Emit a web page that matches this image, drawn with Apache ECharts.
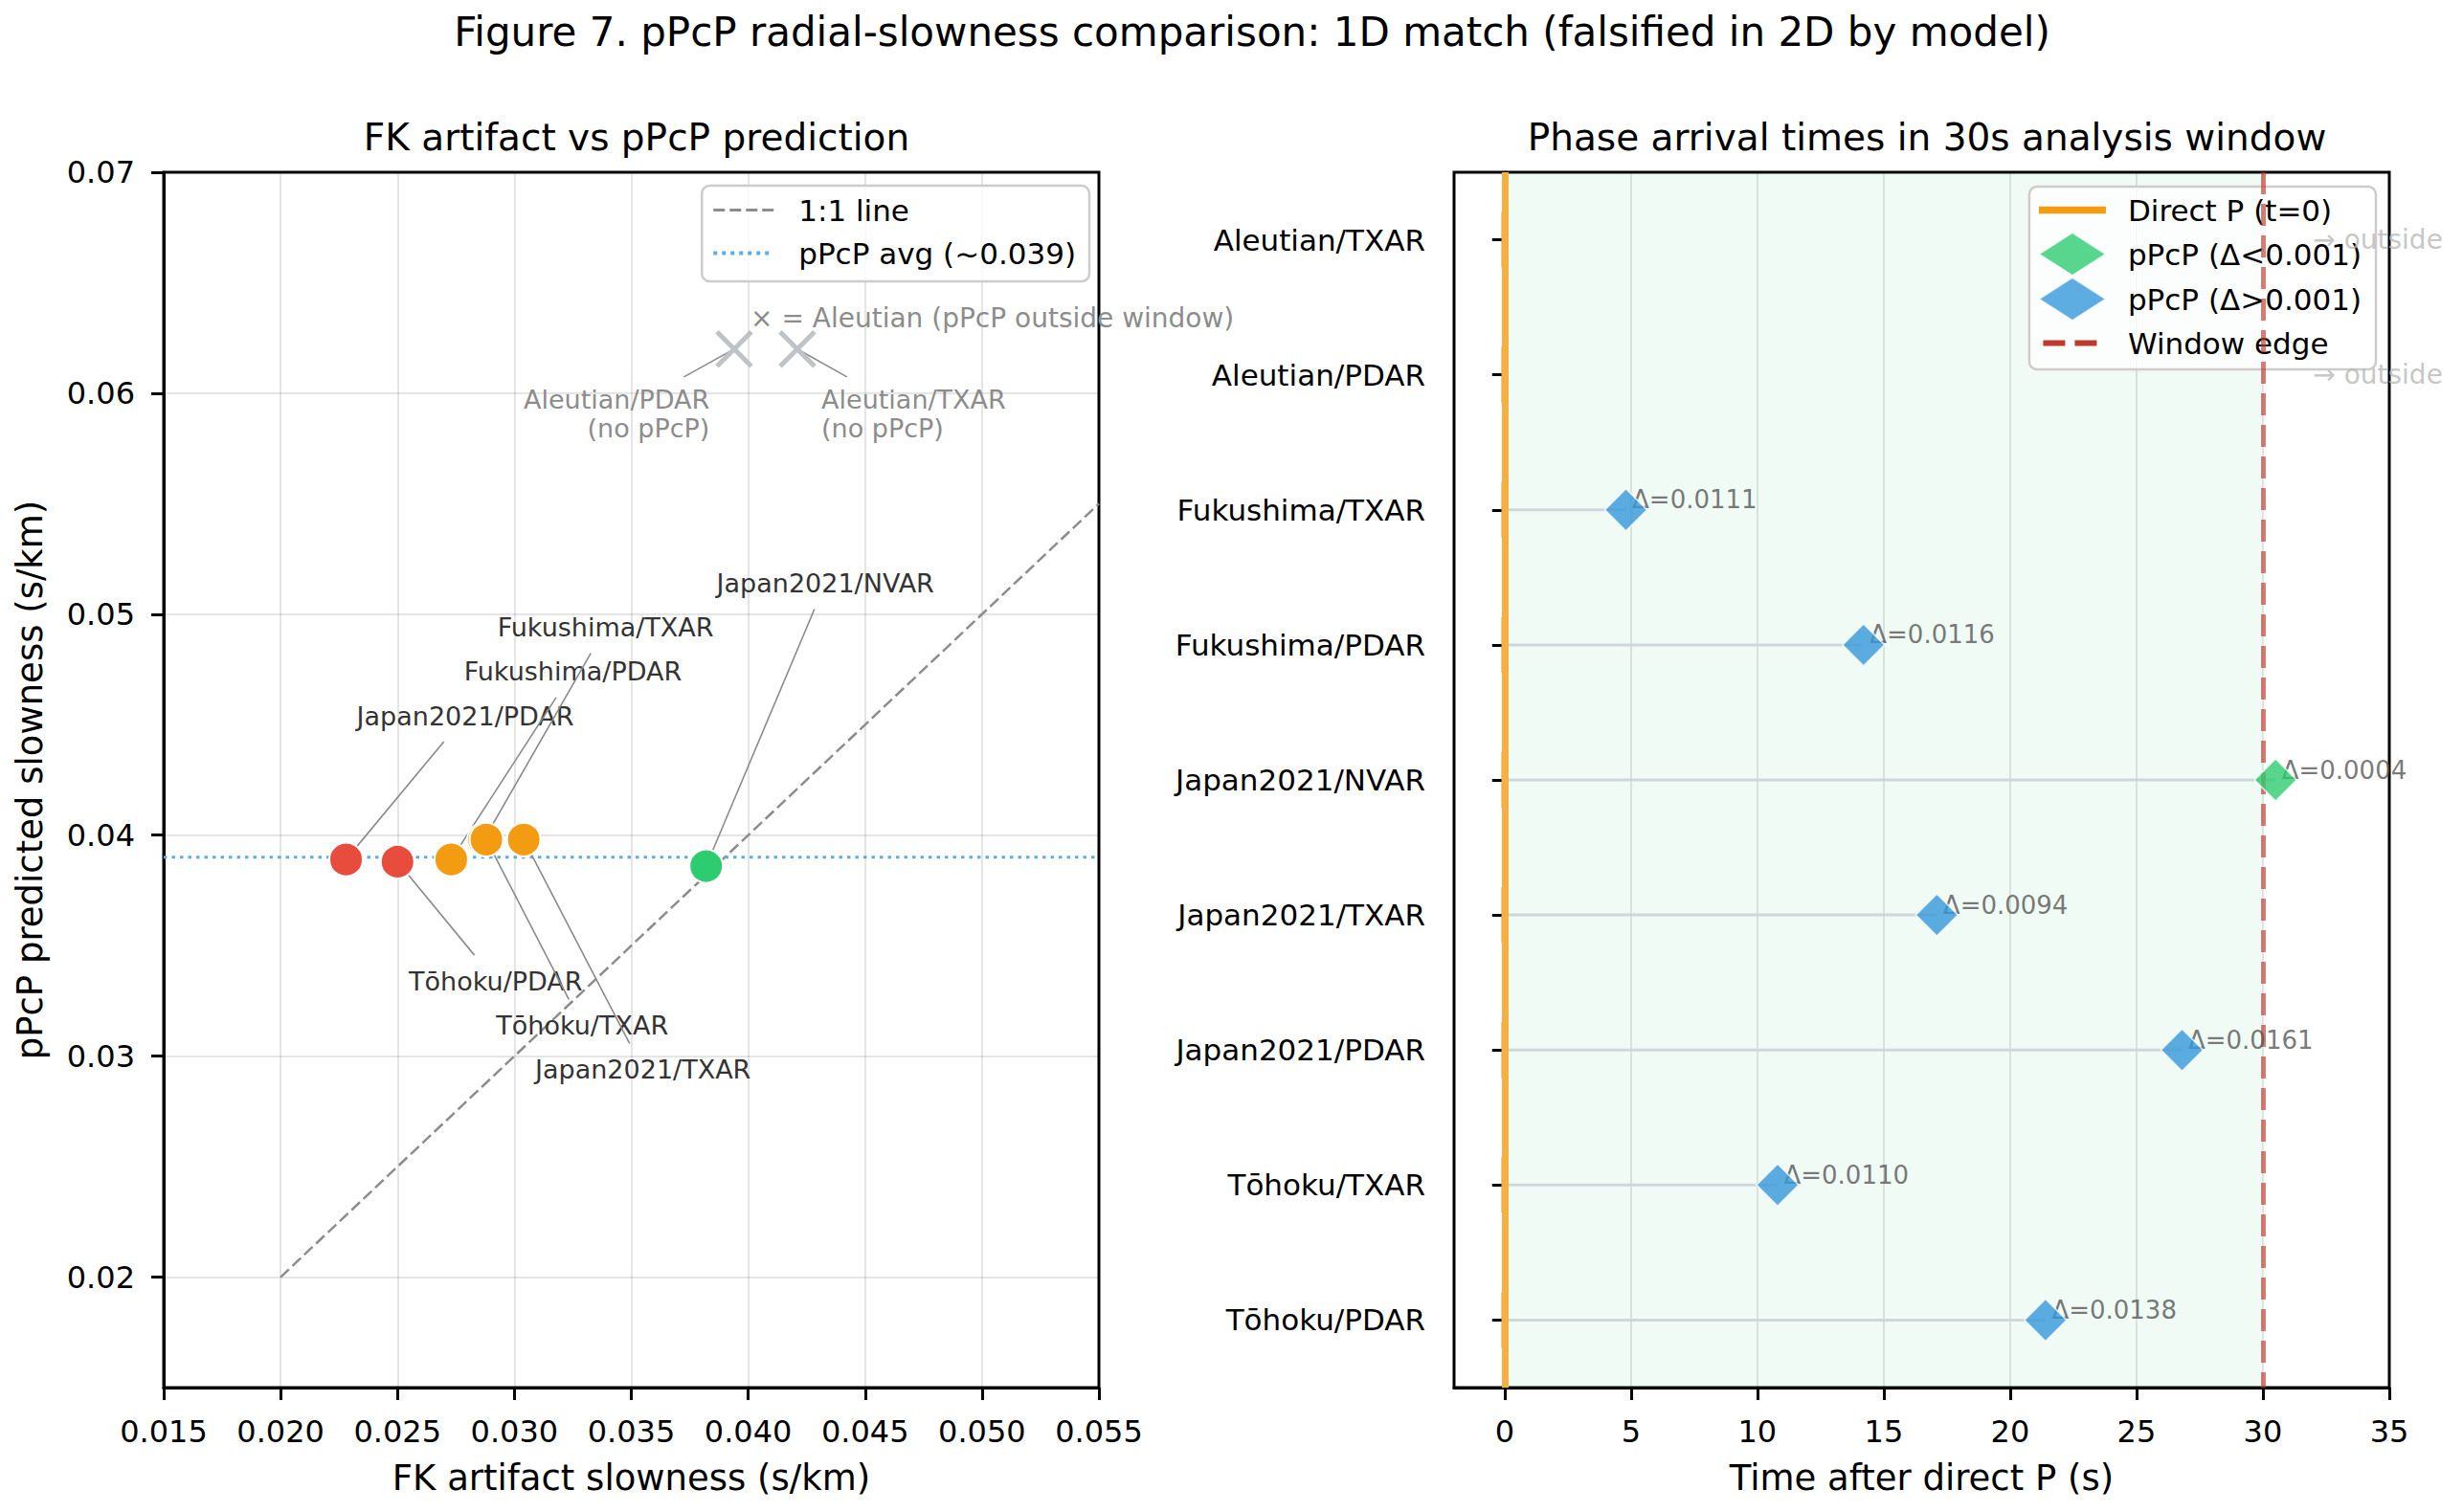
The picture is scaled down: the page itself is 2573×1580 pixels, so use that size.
<!DOCTYPE html>
<html><head><meta charset="utf-8">
<script src="https://cdn.jsdelivr.net/npm/echarts@6/dist/echarts.min.js"></script>
<style>html,body{margin:0;padding:0;background:#fff}#c{width:2573px;height:1580px}</style>
</head><body><div id="c"></div>
<script>
// ---------------- Left panel data ----------------
const pairLabels   = ['Japan2021/PDAR','Tōhoku/PDAR','Fukushima/PDAR','Fukushima/TXAR','Tōhoku/TXAR','Japan2021/TXAR','Japan2021/NVAR'];
const fkSlowness   = [0.0228, 0.0250, 0.0273, 0.0287, 0.0288, 0.0304, 0.0382];
const pcpSlowness  = [0.0389, 0.0388, 0.0389, 0.0398, 0.0398, 0.0398, 0.0386];
const pointColors  = ['#e74c3c','#e74c3c','#f39c12','#f39c12','#f39c12','#f39c12','#2ecc71'];
const labelX       = [0.0279, 0.0292, 0.0325, 0.0339, 0.0329, 0.0355, 0.0433];
const labelY       = [0.0454, 0.0334, 0.0474, 0.0494, 0.0314, 0.0294, 0.0514];
const aleutianLabels = ['Aleutian/PDAR\n(no pPcP)','Aleutian/TXAR\n(no pPcP)'];
const aleutianAlign  = ['right','left'];
const aleutianFk     = [0.0394, 0.0421];
const aleutianPcp    = [0.0620, 0.0620];
const aleutianLabelX = [0.03835, 0.04313];
const aleutianLabelY = [0.05905, 0.05905];
const aleutianNote   = '× = Aleutian (pPcP outside window)';
const aleutianNotePos = [0.0401, 0.0634];
const avgPcp = 0.039;
const oneToOneLine = [[0.020, 0.020], [0.055, 0.055]];
const xTicksLeft = [0.015, 0.020, 0.025, 0.030, 0.035, 0.040, 0.045, 0.050, 0.055];
const yTicksLeft = [0.02, 0.03, 0.04, 0.05, 0.06, 0.07];

// ---------------- Right panel data ----------------
const rowLabels = ['Aleutian/TXAR','Aleutian/PDAR','Fukushima/TXAR','Fukushima/PDAR','Japan2021/NVAR','Japan2021/TXAR','Japan2021/PDAR','Tōhoku/TXAR','Tōhoku/PDAR'];
const pcpTimes      = [null, null, 4.8, 14.2, 30.5, 17.1, 26.8, 10.8, 21.4];
const slownessDelta = [null, null, 0.0111, 0.0116, 0.0004, 0.0094, 0.0161, 0.0110, 0.0138];
const directPTime = 0;
const windowEdge = 30;
const outsideTextX = 32;
const xTicksRight = [0, 5, 10, 15, 20, 25, 30, 35];

// ---------------- helpers ----------------
const FONT = 'DejaVu Sans';
function measure(text, size) {
  const ctx = measure.ctx || (measure.ctx = document.createElement('canvas').getContext('2d'));
  ctx.font = size + 'px "DejaVu Sans"';
  return Math.max.apply(null, text.split('\n').map(t => ctx.measureText(t).width));
}
function annotationRenderer(texts, aligns, textColor, lineColor, fontSize, lineH, extra) {
  return function (params, api) {
    const i = params.dataIndex;
    const a = api.coord([api.value(0), api.value(1)]);
    const p = api.coord([api.value(2), api.value(3)]);
    const txt = texts[i], align = aligns[i];
    const w = measure(txt, fontSize);
    const n = txt.split('\n').length;
    let cx = a[0];
    if (align === 'left') cx = a[0] + w / 2; else if (align === 'right') cx = a[0] - w / 2;
    const hw = w / 2 + 6, hh = n * lineH / 2 + extra;
    const dx = p[0] - cx, dy = p[1] - a[1];
    const t = Math.min(dx ? hw / Math.abs(dx) : Infinity, dy ? hh / Math.abs(dy) : Infinity);
    const s = [cx + t * dx, a[1] + t * dy];
    return { type: 'group', children: [
      { type: 'line', shape: { x1: s[0], y1: s[1], x2: p[0], y2: p[1] }, style: { stroke: lineColor, lineWidth: 1.6 } },
      { type: 'text', x: a[0], y: a[1], style: { text: txt, fill: textColor, fontSize: fontSize, fontFamily: FONT, align: align, verticalAlign: 'middle', lineHeight: lineH } }
    ]};
  };
}

// legend icon shapes (pure styling)
const ICON_DASH_GRAY = 'path://M0,0h12v3h-12z M17,0h12v3h-12z M34,0h12v3h-12z M51,0h12v3h-12z';
const ICON_DOT_BLUE  = 'path://M0,0h4v4h-4z M9,0h4v4h-4z M18,0h4v4h-4z M27,0h4v4h-4z M36,0h4v4h-4z M45,0h4v4h-4z M54,0h4v4h-4z M63,2L63,2z';
const ICON_SOLID     = 'path://M0,0h70v7.5h-70z';
const ICON_DASH_RED  = 'path://M0,3L0,3z M4.5,0h23v6h-23z M37.5,0h23v6h-23z M70,3L70,3z';

const chart = echarts.init(document.getElementById('c'), null, { renderer: 'svg', width: 2573, height: 1580 });

const axisCommon = {
  axisLine: { show: true, lineStyle: { color: '#000', width: 3 } },
  axisTick: { show: true, length: 13, lineStyle: { color: '#000', width: 3 } },
  nameTextStyle: { fontSize: 37, color: '#000', fontFamily: FONT }
};
const legendText = { fontSize: 31, color: '#000', fontFamily: FONT, lineHeight: 45 };
const gridLineStyle = { color: 'rgba(0,0,0,0.1)', width: 2 };

const option = {
  backgroundColor: '#fff',
  animation: false,
  textStyle: { fontFamily: FONT },
  title: [
    { text: 'Figure 7. pPcP radial-slowness comparison: 1D match (falsified in 2D by model)', left: 1303, textAlign: 'center', top: 7,
      textStyle: { fontSize: 42, fontWeight: 'normal', color: '#000', fontFamily: FONT } },
    { text: 'FK artifact vs pPcP prediction', left: 660, textAlign: 'center', top: 119,
      textStyle: { fontSize: 39, fontWeight: 'normal', color: '#000', fontFamily: FONT } },
    { text: 'Phase arrival times in 30s analysis window', left: 2008, textAlign: 'center', top: 119,
      textStyle: { fontSize: 39, fontWeight: 'normal', color: '#000', fontFamily: FONT } }
  ],
  legend: [
    { data: [{ name: '1:1 line', icon: ICON_DASH_GRAY }, { name: 'pPcP avg (~0.039)', icon: ICON_DOT_BLUE }],
      orient: 'vertical', right: 1435, top: 194, symbolKeepAspect: true,
      itemWidth: 63, itemHeight: 45, itemGap: 0, padding: [3, 14, 7, 12],
      backgroundColor: 'rgba(255,255,255,0.8)', borderColor: '#cccccc', borderWidth: 2.5, borderRadius: 8,
      textStyle: Object.assign({ padding: [0, 0, 0, 21] }, legendText) },
    { data: [{ name: 'Direct P (t=0)', icon: ICON_SOLID }, { name: 'pPcP (Δ<0.001)' }, { name: 'pPcP (Δ>0.001)' },
             { name: 'Window edge', icon: ICON_DASH_RED }],
      orient: 'vertical', right: 91, top: 195, symbolKeepAspect: true,
      itemWidth: 70, itemHeight: 45, itemGap: 0, padding: [2, 15, 5, 9],
      backgroundColor: 'rgba(255,255,255,0.8)', borderColor: '#cccccc', borderWidth: 2.5, borderRadius: 8,
      textStyle: Object.assign({ padding: [0, 0, 0, 18] }, legendText) }
  ],
  grid: [
    { left: 171, top: 180, width: 977, height: 1270, show: true, borderColor: '#000', borderWidth: 3, backgroundColor: 'transparent' },
    { left: 1519, top: 180, width: 977, height: 1270, show: true, borderColor: '#000', borderWidth: 3, backgroundColor: 'transparent' }
  ],
  xAxis: [
    Object.assign({}, axisCommon, {
      gridIndex: 0, type: 'value', min: 0.015, max: 0.055,
      axisTick: Object.assign({}, axisCommon.axisTick, { customValues: xTicksLeft }),
      axisLabel: { customValues: xTicksLeft, formatter: v => v.toFixed(3), color: '#000', fontSize: 32, fontFamily: FONT, margin: 30 },
      splitLine: { show: true, showMinLine: false, showMaxLine: false, lineStyle: gridLineStyle },
      name: 'FK artifact slowness (s/km)', nameLocation: 'middle', nameGap: 76
    }),
    Object.assign({}, axisCommon, {
      gridIndex: 1, type: 'value', min: -2, max: 35,
      axisTick: Object.assign({}, axisCommon.axisTick, { customValues: xTicksRight }),
      axisLabel: { customValues: xTicksRight, formatter: v => String(v), color: '#000', fontSize: 32, fontFamily: FONT, margin: 30 },
      splitLine: { show: true, showMaxLine: false, lineStyle: gridLineStyle },
      name: 'Time after direct P (s)', nameLocation: 'middle', nameGap: 76
    })
  ],
  yAxis: [
    Object.assign({}, axisCommon, {
      gridIndex: 0, type: 'value', min: 0.015, max: 0.07,
      axisTick: Object.assign({}, axisCommon.axisTick, { customValues: yTicksLeft }),
      axisLabel: { customValues: yTicksLeft, formatter: v => v.toFixed(2), color: '#000', fontSize: 32, fontFamily: FONT, margin: 30 },
      splitLine: { show: true, showMaxLine: false, lineStyle: gridLineStyle },
      name: 'pPcP predicted slowness (s/km)', nameLocation: 'middle', nameGap: 121, nameRotate: 90
    }),
    Object.assign({}, axisCommon, {
      gridIndex: 1, type: 'category', data: rowLabels, inverse: true,
      axisTick: Object.assign({}, axisCommon.axisTick, { alignWithLabel: true }),
      axisLabel: { color: '#000', fontSize: 31, fontFamily: FONT, margin: 30 },
      splitLine: { show: false }
    })
  ],
  series: [
    // ---------- left panel ----------
    { name: '1:1 line', type: 'line', xAxisIndex: 0, yAxisIndex: 0, data: oneToOneLine, symbol: 'none', silent: true, z: 2,
      color: '#8c8c8c', lineStyle: { color: '#8c8c8c', width: 2.5, type: [12, 5] } },
    { name: 'pPcP avg (~0.039)', type: 'line', xAxisIndex: 0, yAxisIndex: 0,
      data: [[xTicksLeft[0], avgPcp], [xTicksLeft[xTicksLeft.length - 1], avgPcp]],
      symbol: 'none', silent: true, z: 2, color: '#5dade2', lineStyle: { color: '#5dade2', width: 3, type: [3.5, 5] } },
    { name: 'annotations', type: 'custom', xAxisIndex: 0, yAxisIndex: 0, silent: true, z: 3, clip: false,
      data: pairLabels.map((n, i) => [labelX[i], labelY[i], fkSlowness[i], pcpSlowness[i]]),
      renderItem: annotationRenderer(pairLabels, pairLabels.map(() => 'center'), '#333333', '#8a8a8a', 27, 30, 12) },
    { name: 'aleutian annotations', type: 'custom', xAxisIndex: 0, yAxisIndex: 0, silent: true, z: 3, clip: false,
      data: aleutianLabels.map((n, i) => [aleutianLabelX[i], aleutianLabelY[i], aleutianFk[i], aleutianPcp[i]]),
      renderItem: annotationRenderer(aleutianLabels, aleutianAlign, '#8c8c8c', '#8c8c8c', 27, 30, 9) },
    { name: 'aleutian markers', type: 'custom', xAxisIndex: 0, yAxisIndex: 0, silent: true, z: 4,
      data: aleutianFk.map((x, i) => [x, aleutianPcp[i]]),
      renderItem: function (params, api) {
        const p = api.coord([api.value(0), api.value(1)]);
        const r = 18;
        return { type: 'group', children: [
          { type: 'line', shape: { x1: p[0] - r, y1: p[1] - r, x2: p[0] + r, y2: p[1] + r }, style: { stroke: '#bdc3c7', lineWidth: 5 } },
          { type: 'line', shape: { x1: p[0] - r, y1: p[1] + r, x2: p[0] + r, y2: p[1] - r }, style: { stroke: '#bdc3c7', lineWidth: 5 } }
        ]};
      } },
    { name: 'aleutian note', type: 'custom', xAxisIndex: 0, yAxisIndex: 0, silent: true, z: 4, clip: false,
      data: [aleutianNotePos],
      renderItem: function (params, api) {
        const p = api.coord([api.value(0), api.value(1)]);
        return { type: 'text', x: p[0], y: p[1], style: { text: aleutianNote, fill: '#8c8c8c', fontSize: 28, fontFamily: FONT, align: 'left', verticalAlign: 'middle' } };
      } },
    { name: 'pairs', type: 'scatter', xAxisIndex: 0, yAxisIndex: 0, z: 5, symbolSize: 35,
      data: fkSlowness.map((x, i) => [x, pcpSlowness[i]]),
      itemStyle: { color: p => pointColors[p.dataIndex], borderColor: '#fff', borderWidth: 2, opacity: 1 } },

    // ---------- right panel ----------
    { name: 'window area', type: 'line', xAxisIndex: 1, yAxisIndex: 1, data: [], silent: true, z: 1,
      markArea: { silent: true, itemStyle: { color: 'rgba(46,204,113,0.07)' }, data: [[{ xAxis: directPTime }, { xAxis: windowEdge }]] } },
    { name: 'connectors', type: 'bar', xAxisIndex: 1, yAxisIndex: 1, data: pcpTimes, barWidth: 3, silent: true, z: 2,
      itemStyle: { color: '#d0d7da' } },
    { name: 'Direct P (t=0)', type: 'line', xAxisIndex: 1, yAxisIndex: 1, data: [], symbol: 'none', z: 3,
      color: '#f39c12', lineStyle: { color: '#f39c12', width: 7 },
      markLine: { silent: true, symbol: 'none', label: { show: false },
        lineStyle: { color: '#f5b041', width: 7, type: 'solid', opacity: 1 }, data: [{ xAxis: directPTime }] } },
    { name: 'direct P rows', type: 'scatter', xAxisIndex: 1, yAxisIndex: 1, silent: true, z: 4,
      symbol: 'rect', symbolSize: [7, 58], itemStyle: { color: '#f39c12' },
      data: rowLabels.map(r => [directPTime, r]) },
    { name: 'Window edge', type: 'line', xAxisIndex: 1, yAxisIndex: 1, data: [], symbol: 'none', z: 3,
      color: '#c0392b', lineStyle: { color: '#c0392b', width: 5, type: [23, 10] },
      markLine: { silent: true, symbol: 'none', label: { show: false },
        lineStyle: { color: '#c0392b', width: 5, type: [23, 10], opacity: 0.65 }, data: [{ xAxis: windowEdge }] } },
    { name: 'delta labels', type: 'scatter', xAxisIndex: 1, yAxisIndex: 1, silent: true, z: 5,
      symbolSize: 1, itemStyle: { color: 'rgba(0,0,0,0)' },
      data: rowLabels.map((r, i) => [pcpTimes[i], r, slownessDelta[i]]).filter(d => d[0] !== null),
      label: { show: true, position: [7, -10], align: 'left', verticalAlign: 'middle', fontSize: 26, color: '#555555', fontFamily: FONT,
        formatter: p => 'Δ=' + p.value[2].toFixed(4) } },
    { name: 'outside labels', type: 'scatter', xAxisIndex: 1, yAxisIndex: 1, silent: true, z: 5,
      symbolSize: 1, itemStyle: { color: 'rgba(0,0,0,0)' },
      data: rowLabels.map((r, i) => [pcpTimes[i] === null ? outsideTextX : null, r]).filter(d => d[0] !== null),
      label: { show: true, position: [0, 0], align: 'left', verticalAlign: 'middle', fontSize: 28, color: '#b8b8b8', fontFamily: FONT,
        formatter: () => '→ outside' } },
    { name: 'pPcP (Δ<0.001)', type: 'scatter', xAxisIndex: 1, yAxisIndex: 1, z: 6, symbol: 'diamond', symbolSize: 44,
      itemStyle: { color: '#2ecc71', borderColor: '#fff', borderWidth: 1.5 },
      data: rowLabels.map((r, i) => [pcpTimes[i], r, slownessDelta[i]]).filter(d => d[0] !== null && d[2] < 0.001) },
    { name: 'pPcP (Δ>0.001)', type: 'scatter', xAxisIndex: 1, yAxisIndex: 1, z: 6, symbol: 'diamond', symbolSize: 44,
      itemStyle: { color: '#3498db', borderColor: '#fff', borderWidth: 1.5 },
      data: rowLabels.map((r, i) => [pcpTimes[i], r, slownessDelta[i]]).filter(d => d[0] !== null && d[2] >= 0.001) }
  ]
};
chart.setOption(option);
</script>
</body></html>
